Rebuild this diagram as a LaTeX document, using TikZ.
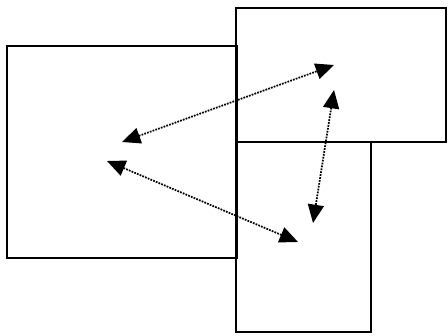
\documentclass[tikz,border=0pt]{standalone}
\usetikzlibrary{arrows.meta}
\begin{document}
\begin{tikzpicture}[x=0.03cm,y=-0.03cm,
  box/.style={draw=black,line width=1.7pt},
  link/.style={densely dotted,line width=1.5pt,{Triangle[length=0.55cm,width=0.48cm]}-{Triangle[length=0.55cm,width=0.48cm]}}]
\useasboundingbox (0,0) rectangle (448,335);
\draw[box] (7,46) rectangle (237,258);
\draw[box] (236,8) rectangle (446,142);
\draw[box] (236,142) rectangle (371,332);
\coordinate (a1) at (122,142);
\coordinate (a2) at (334,65);
\coordinate (b1) at (107,161);
\coordinate (b2) at (298,242);
\coordinate (c1) at (334,90);
\coordinate (c2) at (313,223);
\draw[link] (a1) -- (a2);
\draw[link] (b1) -- (b2);
\draw[link] (c1) -- (c2);
\end{tikzpicture}
\end{document}
